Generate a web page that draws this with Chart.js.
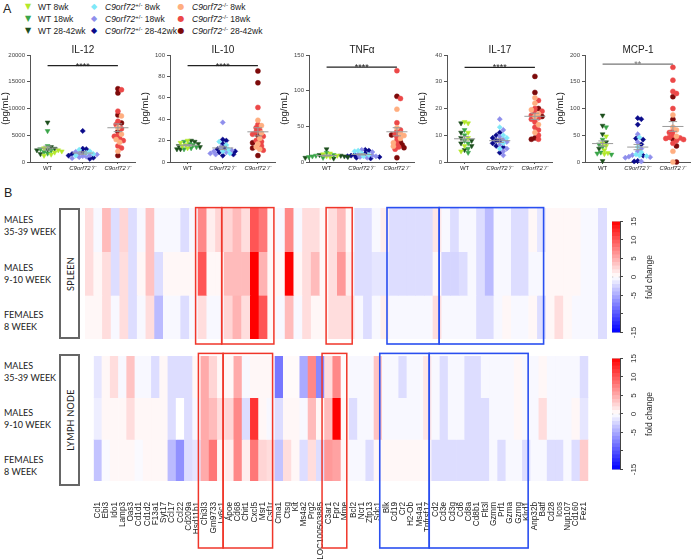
<!DOCTYPE html>
<html><head><meta charset="utf-8">
<script src="https://cdn.jsdelivr.net/npm/chart.js@4.4.1/dist/chart.umd.min.js"></script>
<style>
html,body{margin:0;padding:0;background:#fff}
body{width:700px;height:560px;position:relative;overflow:hidden;font-family:"Liberation Sans",Arial,sans-serif;color:#222}
.panel{position:absolute;font-size:12.5px;line-height:14px}
.leg{position:absolute;font-size:8.5px;white-space:nowrap;line-height:10px}
.leg sup{font-size:6px;vertical-align:3px;line-height:0}
.sym{position:absolute;font-size:8px;line-height:10px;width:10px;text-align:center;font-family:"DejaVu Sans",sans-serif}
.title{position:absolute;font-size:10px;line-height:12px;text-align:center;width:120px;top:44px}
.rowlab{position:absolute;font-family:Lato,"Open Sans",sans-serif;font-size:9px;line-height:12px;left:4px;color:#222}
.side{position:absolute;left:59px;width:21px;border:2px solid #666;box-sizing:border-box}
.side span{position:absolute;left:50%;top:50%;transform:translate(-50%,-50%) rotate(-90deg);font-family:Lato,sans-serif;font-size:9px;white-space:nowrap;letter-spacing:0.3px}
</style></head><body>

<div class="panel" style="left:3px;top:2px">A</div>
<div class="panel" style="left:4px;top:186px">B</div>

<!-- legend -->
<div class="sym" style="left:23px;top:2px;color:#b3e82a">▼</div><div class="leg" style="left:38px;top:2px">WT 8wk</div>
<div class="sym" style="left:23px;top:14px;color:#3aa548">▼</div><div class="leg" style="left:38px;top:14px">WT 18wk</div>
<div class="sym" style="left:23px;top:26px;color:#1d4f1d">▼</div><div class="leg" style="left:38px;top:26px">WT 28-42wk</div>
<div class="sym" style="left:89px;top:2px;color:#7fe8f8">◆</div><div class="leg" style="left:105px;top:2px"><i>C9orf72</i><sup>+/-</sup> 8wk</div>
<div class="sym" style="left:89px;top:14px;color:#8f8fec">◆</div><div class="leg" style="left:105px;top:14px"><i>C9orf72</i><sup>+/-</sup> 18wk</div>
<div class="sym" style="left:89px;top:26px;color:#0a0a8a">◆</div><div class="leg" style="left:105px;top:26px"><i>C9orf72</i><sup>+/-</sup> 28-42wk</div>
<div class="sym" style="left:176px;top:2px;color:#ffae80">●</div><div class="leg" style="left:192px;top:2px"><i>C9orf72</i><sup>-/-</sup> 8wk</div>
<div class="sym" style="left:176px;top:14px;color:#ec4848">●</div><div class="leg" style="left:192px;top:14px"><i>C9orf72</i><sup>-/-</sup> 18wk</div>
<div class="sym" style="left:176px;top:26px;color:#7d0a0a">●</div><div class="leg" style="left:192px;top:26px"><i>C9orf72</i><sup>-/-</sup> 28-42wk</div>

<!-- heatmap row labels -->
<div class="rowlab" style="top:214px">MALES<br>35-39 WEEK</div>
<div class="rowlab" style="top:262px">MALES<br>9-10 WEEK</div>
<div class="rowlab" style="top:309px">FEMALES<br>8 WEEK</div>
<div class="rowlab" style="top:360px">MALES<br>35-39 WEEK</div>
<div class="rowlab" style="top:407px">MALES<br>9-10 WEEK</div>
<div class="rowlab" style="top:454px">FEMALES<br>8 WEEK</div>
<div class="side" style="top:208px;height:131px"><span>SPLEEN</span></div>
<div class="side" style="top:354px;height:132px"><span>LYMPH NODE</span></div>

<script>
// ---------------- DATA: panel A (pg/mL) ----------------
const CATEGORIES = ['WT', 'C9orf72\u207A/\u207B', 'C9orf72\u207B/\u207B'];

const IL12_WT_8   = [2600, 2200, 1400, 1200, 1800, 2000];
const IL12_WT_18  = [5800, 3000, 2400, 2100, 1900, 1600];
const IL12_WT_28  = [7400, 2800, 2500, 2300, 2200, 1500];
const IL12_HET_8  = [2300, 2000, 1700, 1500, 1200];
const IL12_HET_18 = [1900, 1600, 1400, 1300, 1100, 1000, 900, 700];
const IL12_HET_28 = [5800, 2500, 2400, 1800, 1500, 1200, 800, 600];
const IL12_KO_8   = [8600, 6400, 5200, 4200, 3700, 2000];
const IL12_KO_18  = [13500, 9500, 7600, 7000, 6200, 5000, 4800, 4400, 4000, 3000, 2600];
const IL12_KO_28  = [13700, 12900, 8800, 7300, 5700, 1200];

const IL10_WT_8   = [20, 18, 16, 15, 13];
const IL10_WT_18  = [19, 17, 16, 14, 13, 12];
const IL10_WT_28  = [20, 19, 17, 15, 14, 12, 12];
const IL10_HET_8  = [19, 16, 12, 10, 8];
const IL10_HET_18 = [37, 14, 11, 10, 9, 8, 7];
const IL10_HET_28 = [21, 20, 17, 13, 12, 10, 9, 7, 6];
const IL10_KO_8   = [39, 34, 27, 22, 17, 14, 12];
const IL10_KO_18  = [51, 35, 32, 30, 28, 26, 24, 20, 19, 15, 11];
const IL10_KO_28  = [85, 74, 25, 18, 13, 6];

const TNF_WT_8    = [12, 11, 9, 8, 7];
const TNF_WT_18   = [13, 10, 9, 8, 7, 6];
const TNF_WT_28   = [18, 10, 9, 8, 7, 6, 5];
const TNF_HET_8   = [16, 15, 12, 10, 8];
const TNF_HET_18  = [17, 14, 11, 9, 8, 7, 6];
const TNF_HET_28  = [17, 16, 12, 10, 9, 8, 7, 6, 5];
const TNF_KO_8    = [74, 48, 40, 37, 33, 27, 22];
const TNF_KO_18   = [128, 89, 55, 45, 43, 39, 35, 30, 25, 21, 18];
const TNF_KO_28   = [92, 38, 28, 24, 20, 6];

const IL17_WT_8   = [15, 14.5, 11, 9, 6, 4];
const IL17_WT_18  = [12, 10, 8, 7, 5, 3.5];
const IL17_WT_28  = [14.5, 11, 9, 8, 7, 6, 4.5];
const IL17_HET_8  = [13, 10, 9, 7, 5];
const IL17_HET_18 = [16, 12, 9.5, 8.5, 7.5, 6.5, 5, 4, 2.5];
const IL17_HET_28 = [11, 10, 9, 8, 8, 7, 6, 5.5, 3.5];
const IL17_KO_8   = [24, 22, 19.5, 18, 17, 14, 11];
const IL17_KO_18  = [23, 20, 19, 18.5, 17.5, 16.5, 16, 15, 13, 12, 10, 8.5];
const IL17_KO_28  = [32, 26, 20, 17, 9, 8.5];

const MCP1_WT_8   = [48, 35, 30, 22, 17, 15];
const MCP1_WT_18  = [65, 42, 33, 28, 18, 16, 14];
const MCP1_WT_28  = [87, 68, 52, 37, 25, 2];
const MCP1_HET_8  = [46, 28, 18, 14, 12, 11];
const MCP1_HET_18 = [52, 37, 25, 20, 13, 10, 9, 8, 1];
const MCP1_HET_28 = [82, 80, 70, 44, 42, 33, 12, 2, 1];
const MCP1_KO_8   = [88, 65, 60, 48, 20, 0];
const MCP1_KO_18  = [177, 153, 132, 128, 100, 58, 55, 50, 46, 45, 44, 42, 40, 35];
const MCP1_KO_28  = [122, 80, 43, 30, 0];

// ---------------- DATA: panel B (fold change) ----------------
const GENES = ['Ccl1','Ebi3','Ido1','Lamp3','Oas3','Cd1d1','Cd1d2','F13a1','Syt17','Ccl17','Ccl22','Cd209a','Hsd11b1','Chi3l3','Gm9733','Ly6c1','Apoe','Cd68','Chit1','Cxcl5','Msr1','Csf1r','Cma1','Ctsg','Kit','Ms4a2','Prg2','LOC100503885','C3ar1','Fpr2','Mme','Bcl2','Ncr1','Zfp13','Sdc1','Blk','Cd19','Cr2','H2-Ob','Ms4a1','Tnfrsf17','Cd2','Cd3e','Cd3g','Cd6','Cd8a','Cd8b1','Flt3l','Gzmm','Prf1','Gzma','Gzmg','Klrd1','Anp32b','Batf','Cd28','Icos','Nup107','Cd160','Fez1'];

const SPLEEN_M35 = [2,-0.4,4,-2,2.5,-2,-0.4,3.5,-0.4,-0.4, -0.4,-2,-0.4,7,1,2.5,2.5,4,2,10, 8,0.5,-0.4,7,-0.4,2,2,0.5,2,4, 0.5,-2,-2,-0.4,1,-2,-2,-2,-2,-2, 1.5,-0.4,-2,-0.4,-0.4,-2,-4,-0.4,-0.4,-2, -2,0.5,-1.5,0.5,0.5,0.5,0.5,-0.4,-0.4,-2];
const SPLEEN_M9  = [2,0.5,2,-2,2,-2,0.5,3.5,-2,0.5, 0.5,0.5,0.5,10,0.5,0.5,4,4,4,15, 4.5,0.5,0.5,15,0.5,2,4,0.5,2,6, 1,-2,-2,-1.5,-1.5,-2,-2,-2,-2,-2, 0.5,-2.5,-2.5,-2,-0.4,-2,-4,-0.4,-0.4,-2, -2,-0.4,-0.4,0.5,0.5,0.5,0.5,-0.4,-0.4,-2];
const SPLEEN_F8  = [0.5,0.5,2,-0.4,2,-2,-0.4,2,-4,-0.4, -0.4,-2,-0.4,2,-0.4,-0.4,2.5,4.5,2,15, 10,0.5,-0.4,4,-0.4,2,0.5,0.5,2,2, 2,-0.4,-2,-0.4,1,-0.4,-0.4,-0.4,-0.4,-0.4, 2,-0.4,-0.4,-0.4,-0.4,-2,-2,-0.4,0.5,-0.4, -0.4,0.5,-2,0.5,2,0.5,-0.4,-0.4,-0.4,-2];

const LYMPH_M35 = [-1.5,0.5,2,-0.4,3.5,-0.4,-0.4,-2,0.5,-2, -2,-2,0.5,5,2.5,0.5,0.5,5,-0.4,0.5, 0.5,0.5,-8,0.3,0.3,-5,7,-7,2,7, 0.3,-0.4,-0.4,-0.4,3.5,-0.4,-0.4,-2,-0.4,-0.4, 1.5,-0.4,-2,-0.4,-0.4,-2,-2,-0.4,-0.4,-0.4, -0.4,0.5,-0.4,-0.4,0.5,-0.4,-0.4,-0.4,-0.4,-2];
const LYMPH_M9  = [-1,0.5,0.5,0.5,2,0.5,0.5,0.5,0.5,-2, 0,-2,-0.4,5,4,2,2.5,7,-2,12, 0.5,-0.4,-2,0.5,0.5,-0.4,4,0.5,4,15, 0.5,-2,-0.4,-0.4,3.5,-0.4,-0.4,-0.4,-0.4,-0.4, 1.5,-0.4,-2,-0.4,-0.4,-2,-2,-2,-0.4,-0.4, -0.4,0.5,-0.4,-0.4,2,-0.4,-0.4,-0.4,0.5,-1.5];
const LYMPH_F8  = [-3.5,-0.3,0.5,0.5,0.5,-0.3,0.5,0.5,0.5,-4, -6.5,-2,-1.5,5,8,0.5,1,7,1,8, 2.5,2,-3.5,2,0.5,-2,2,-2,6,5.5, 0.5,-0.4,-0.4,-2,0.5,0.5,0.5,0.5,0.5,0.5, 0.5,-2,-2,-2,-2,-2,-2,-2,-0.4,-2, -0.4,-0.4,-2,-0.4,-0.4,-2,-2,-0.4,-2,3];

const CBAR_TICKS = [-15, -10, -5, 0, 5, 10, 15];

// ---------------- setup ----------------
Chart.defaults.font.family = '"Liberation Sans", Arial, sans-serif';
Chart.defaults.animation = false;
Chart.defaults.plugins.legend.display = false;
Chart.defaults.plugins.tooltip.enabled = false;

function mkCanvas(left, top, w, h, parent) {
  const c = document.createElement('canvas');
  c.width = w; c.height = h;
  c.style.cssText = 'position:absolute;left:' + left + 'px;top:' + top + 'px;width:' + w + 'px;height:' + h + 'px';
  (parent || document.body).appendChild(c);
  return c;
}

const COLORS = [['#b3e82a', '#3aa548', '#1d4f1d'], ['#7fe8f8', '#8f8fec', '#0a0a8a'], ['#ffae80', '#ec4848', '#7d0a0a']];
const STYLES = ['triangle', 'rectRot', 'circle'];

// deterministic beeswarm layout (pixel spacing only)
function swarm(vals, yMax) {
  const PH = 107, XU = 3 / 107;
  const order = vals.map((p, i) => i).sort((a, b) => vals[b].v - vals[a].v);
  const placed = [], res = new Array(vals.length).fill(0);
  order.forEach(i => {
    const py = vals[i].v / yMax * PH;
    for (let k = 0; k < 80; k++) {
      const off = (k % 2 ? 1 : -1) * Math.ceil(k / 2) * 1.8;
      if (placed.every(q => (q.px - off) ** 2 + (q.py - py) ** 2 >= 11)) {
        placed.push({px: off, py}); res[i] = off * XU; break;
      }
    }
  });
  return res;
}

const starPlugin = {
  id: 'stars',
  afterDatasetsDraw(chart, a, o) {
    const {ctx, scales: {x, y}} = chart;
    ctx.save();
    ctx.fillStyle = o.color; ctx.font = '9px "Liberation Sans", Arial';
    ctx.textAlign = 'center'; ctx.textBaseline = 'alphabetic';
    ctx.fillText(o.text, x.getPixelForValue(1), y.getPixelForValue(o.y) + 3);
    ctx.restore();
  }
};

function scatterPanel(p) {
  const c = mkCanvas(p.ax - 30, 40, 140, 135);
  const t = document.createElement('div');
  t.className = 'title'; t.style.left = (p.ax - 7) + 'px'; t.textContent = p.name;
  document.body.appendChild(t);

  const datasets = [];
  for (let g = 0; g < 3; g++) {
    const all = [];
    p.groups[g].forEach((arr, a) => arr.forEach(v => all.push({v, a})));
    const offs = swarm(all, p.max);
    const vals = all.map(q => q.v);
    const n = vals.length, m = vals.reduce((s, v) => s + v, 0) / n;
    const se = Math.sqrt(vals.reduce((s, v) => s + (v - m) ** 2, 0) / (n - 1)) / Math.sqrt(n);
    datasets.push({
      data: [{x: g - 0.3, y: m}, {x: g + 0.3, y: m}, {x: g, y: null},
             {x: g - 0.12, y: m + se}, {x: g + 0.12, y: m + se}, {x: g, y: null},
             {x: g - 0.12, y: m - se}, {x: g + 0.12, y: m - se}, {x: g, y: null},
             {x: g, y: m - se}, {x: g, y: m + se}],
      showLine: true, spanGaps: false, pointRadius: 0, borderColor: '#9a9a9a', borderWidth: 1, order: 0, clip: false
    });
    for (let a = 0; a < 3; a++) {
      const pts = [];
      all.forEach((q, i) => { if (q.a === a) pts.push({x: g + offs[i], y: q.v}); });
      datasets.push({
        data: pts, pointStyle: STYLES[g], rotation: g === 0 ? 180 : 0,
        pointRadius: g === 1 ? 2.6 : (g === 0 ? 2.8 : 2.5),
        backgroundColor: COLORS[g][a], borderColor: COLORS[g][a], borderWidth: 0.5, order: 1, clip: false
      });
    }
  }
  datasets.push({data: [{x: 0, y: p.sig}, {x: 2, y: p.sig}], showLine: true, pointRadius: 0,
    borderColor: p.sigColor, borderWidth: 1.2, order: 0, clip: false});

  new Chart(c, {
    type: 'scatter',
    data: {datasets},
    options: {
      responsive: false, animation: false,
      layout: {padding: {top: 15, right: 3, left: 0, bottom: 0}},
      scales: {
        x: {
          type: 'linear', min: -0.5, max: 2.5,
          afterBuildTicks: s => { s.ticks = [0, 1, 2].map(v => ({value: v})); },
          afterFit: s => { s.height = 13; },
          ticks: {callback: v => CATEGORIES[v], color: '#222', padding: 1, maxRotation: 0,
                  font: ctx => ({size: 6, style: ctx.index > 0 ? 'italic' : 'normal'})},
          grid: {drawOnChartArea: false, drawTicks: true, tickLength: 2, color: '#555'},
          border: {color: '#555', width: 1}
        },
        y: {
          min: 0, max: p.max,
          afterBuildTicks: s => { const t = []; for (let v = 0; v <= p.max + 1e-9; v += p.step) t.push({value: v}); s.ticks = t; },
          afterFit: s => { s.width = 30; },
          ticks: {color: '#444', padding: 2, font: {size: 6}, callback: v => String(v)},
          grid: {drawOnChartArea: false, drawTicks: true, tickLength: 3, color: '#555'},
          border: {color: '#555', width: 1},
          title: {display: true, text: '(pg/mL)', font: {size: 9.5}, padding: 0, color: '#222'}
        }
      },
      plugins: {stars: {text: p.stars, y: p.sig, color: p.sigColor}}
    },
    plugins: [starPlugin]
  });
}

const PANELS = [
  {name: 'IL-12', ax: 30, max: 20000, step: 5000, sig: 18000, stars: '****', sigColor: '#222',
   groups: [[IL12_WT_8, IL12_WT_18, IL12_WT_28], [IL12_HET_8, IL12_HET_18, IL12_HET_28], [IL12_KO_8, IL12_KO_18, IL12_KO_28]]},
  {name: 'IL-10', ax: 170, max: 100, step: 20, sig: 90, stars: '****', sigColor: '#222',
   groups: [[IL10_WT_8, IL10_WT_18, IL10_WT_28], [IL10_HET_8, IL10_HET_18, IL10_HET_28], [IL10_KO_8, IL10_KO_18, IL10_KO_28]]},
  {name: 'TNF\u03B1', ax: 309, max: 150, step: 50, sig: 133, stars: '****', sigColor: '#222',
   groups: [[TNF_WT_8, TNF_WT_18, TNF_WT_28], [TNF_HET_8, TNF_HET_18, TNF_HET_28], [TNF_KO_8, TNF_KO_18, TNF_KO_28]]},
  {name: 'IL-17', ax: 447, max: 40, step: 10, sig: 35.4, stars: '****', sigColor: '#222',
   groups: [[IL17_WT_8, IL17_WT_18, IL17_WT_28], [IL17_HET_8, IL17_HET_18, IL17_HET_28], [IL17_KO_8, IL17_KO_18, IL17_KO_28]]},
  {name: 'MCP-1', ax: 585, max: 200, step: 50, sig: 183, stars: '**', sigColor: '#777',
   groups: [[MCP1_WT_8, MCP1_WT_18, MCP1_WT_28], [MCP1_HET_8, MCP1_HET_18, MCP1_HET_28], [MCP1_KO_8, MCP1_KO_18, MCP1_KO_28]]}
];
PANELS.forEach(scatterPanel);

// ---------------- heatmaps ----------------
function fc(v) {
  const t = Math.max(-1, Math.min(1, v / 15));
  if (t >= 0) { const c = Math.round(255 * (1 - t)); return 'rgb(255,' + c + ',' + c + ')'; }
  const c = Math.round(255 * (1 + t)); return 'rgb(' + c + ',' + c + ',255)';
}

const BOXES = [
  {from: 'Chi3l3', to: 'Ly6c1', color: '#f0362a', width: 1.5},
  {from: 'Apoe', to: 'Csf1r', color: '#f0362a', width: 1.5},
  {from: 'C3ar1', to: 'Mme', color: '#f0362a', width: 1.5},
  {from: 'Blk', to: 'Tnfrsf17', color: '#2a4ff0', width: 1.6},
  {from: 'Cd2', to: 'Klrd1', color: '#2a4ff0', width: 1.6}
];

const boxPlugin = {
  id: 'boxes',
  afterDatasetsDraw(chart, a, o) {
    const {ctx, scales: {x}} = chart;
    const w = x.getPixelForValue(1) - x.getPixelForValue(0);
    ctx.save();
    BOXES.forEach(b => {
      const x0 = x.getPixelForValue(GENES.indexOf(b.from)) - w / 2 + o.shift;
      const x1 = x.getPixelForValue(GENES.indexOf(b.to)) + w / 2 + o.shift;
      ctx.strokeStyle = b.color; ctx.lineWidth = b.width;
      ctx.strokeRect(x0, o.top, x1 - x0, o.bottom - o.top);
    });
    ctx.restore();
  }
};

function heatmap(left, top, w, h, rows, padTop, padBottom, showX, boxTop, boxBottom) {
  const c = mkCanvas(left, top, w, h);
  new Chart(c, {
    type: 'bar',
    data: {labels: GENES, datasets: rows.map((vals, r) => ({
      data: vals.map(() => [2 - r, 3 - r]),
      backgroundColor: vals.map(fc),
      borderWidth: 0, grouped: false, barPercentage: 1, categoryPercentage: 1
    }))},
    options: {
      responsive: false, animation: false,
      layout: {padding: {top: padTop, bottom: padBottom, left: 0, right: 0}},
      scales: {
        x: {display: showX, offset: true, grid: {display: false}, border: {display: false},
            ticks: {autoSkip: false, minRotation: 90, maxRotation: 90, padding: 13, font: {size: 8.2}, color: '#222'},
            afterFit: s => { if (showX) s.height = 79; }},
        y: {display: false, min: 0, max: 3}
      },
      plugins: {boxes: {top: boxTop, bottom: boxBottom, shift: -2.5}}
    },
    plugins: [boxPlugin]
  });
}

heatmap(85, 200, 522, 150, [SPLEEN_M35, SPLEEN_M9, SPLEEN_F8], 8, 11, false, 7.6, 144);
heatmap(85, 345, 522, 215, [LYMPH_M35, LYMPH_M9, LYMPH_F8], 11, 0, true, 8.4, 203);

// ---------------- colour bars ----------------
function colorbar(cx, cy) {
  const wrap = document.createElement('div');
  wrap.style.cssText = 'position:absolute;left:' + (cx - 70) + 'px;top:' + (cy - 25) + 'px;width:140px;height:50px;transform:rotate(-90deg);transform-origin:50% 50%';
  document.body.appendChild(wrap);
  const c = mkCanvas(0, 0, 140, 50, wrap);
  const lo = CBAR_TICKS[0], hi = CBAR_TICKS[CBAR_TICKS.length - 1];
  const ds = [];
  for (let v = lo; v < hi; v++) ds.push({data: [[v, v + 1]], backgroundColor: fc(v + 0.5), borderWidth: 0, grouped: false, barPercentage: 1, categoryPercentage: 1});
  ds.push({data: [[lo, hi]], backgroundColor: 'rgba(0,0,0,0)', borderColor: '#666', borderWidth: 1, borderSkipped: false, grouped: false, barPercentage: 1, categoryPercentage: 1});
  new Chart(c, {
    type: 'bar',
    data: {labels: [''], datasets: ds},
    options: {
      indexAxis: 'y', responsive: false, animation: false,
      layout: {padding: {left: 14.5, right: 14.5, top: 0, bottom: 0}},
      scales: {
        y: {display: false},
        x: {min: lo, max: hi,
            afterBuildTicks: s => { s.ticks = CBAR_TICKS.map(v => ({value: v})); },
            afterFit: s => { s.height = 42; },
            ticks: {callback: v => (v === -10 ? '' : String(v)), font: {size: 8}, color: '#333', padding: 6, maxRotation: 0},
            grid: {drawOnChartArea: false, tickLength: 3, color: '#444'},
            border: {display: true, color: '#444'},
            title: {display: true, text: 'fold change', font: {size: 8.5}, padding: {top: 0, bottom: 7}, color: '#222'}}
      }
    }
  });
}
colorbar(637, 276.5);
colorbar(637, 414);
</script>
</body></html>
